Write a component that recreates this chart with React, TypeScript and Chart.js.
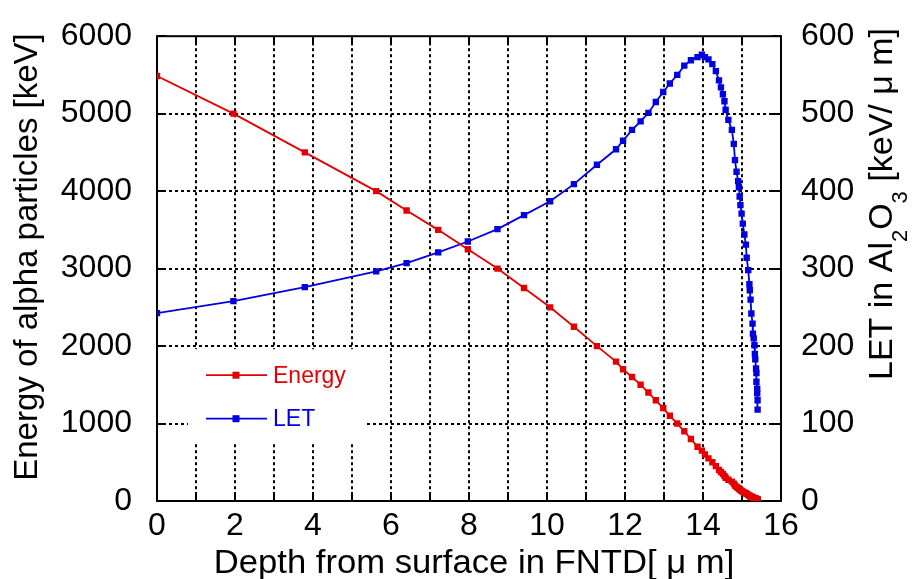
import React, { useEffect, useRef } from 'react';
import { Chart, registerables } from 'chart.js';

Chart.register(...registerables);

// Depth in the FNTD (µm) at which each SRIM-like energy step is reached
const depthUm = [
  0.0, 1.96, 3.79, 5.62, 6.4, 7.21, 7.97, 8.73, 9.41, 10.08, 10.69, 11.28, 11.77, 11.95, 12.18, 12.4,
  12.6, 12.79, 12.98, 13.15, 13.34, 13.52, 13.69, 13.86, 13.97, 14.05, 14.14, 14.24, 14.33, 14.41,
  14.46, 14.51, 14.55, 14.58, 14.65, 14.74, 14.79, 14.82, 14.86, 14.9, 14.92, 14.94, 14.96, 14.99,
  15.02, 15.06, 15.1, 15.12, 15.16, 15.19, 15.2, 15.22, 15.24, 15.27, 15.28, 15.3, 15.32, 15.33,
  15.34, 15.36, 15.37, 15.37, 15.39, 15.39, 15.4, 15.4,
];

// Energy of the alpha particle (keV)
const energyKeV = [
  5486, 5000, 4500, 4000, 3750, 3500, 3250, 3000, 2750, 2500, 2250, 2000, 1800, 1700, 1600, 1500,
  1400, 1300, 1200, 1100, 1000, 900, 800, 700, 650, 600, 550, 500, 450, 400, 375, 350, 325, 300,
  275, 250, 225, 200, 180, 170, 160, 150, 140, 130, 120, 110, 100, 90, 80, 70, 65, 60, 55, 50, 45,
  40, 37.5, 35, 32.5, 30, 27.5, 25, 22.5, 20, 18, 17,
];

// LET in Al2O3 (keV/µm)
const letKeVPerUm = [
  242.5, 258, 276, 296.5, 307, 321, 335, 351, 369, 387, 409, 434, 454, 465, 479, 490, 501, 515, 528,
  539, 550, 562, 569, 573, 576, 573, 570, 564, 555, 543, 534, 525, 516, 505, 492, 479, 461, 440, 425,
  413, 405, 393, 382, 371, 358, 344, 331, 314, 298, 280, 272, 260, 242, 229, 216, 210, 201, 190, 183,
  171, 165, 154, 145, 139, 130, 118,
];

const seriesLabels = ['Energy', 'LET'];
const xTitle = 'Depth from surface in FNTD[ \u03bc m]';
const yTitle = 'Energy of alpha particles [keV]';

const RED = 'rgb(228,0,0)';
const BLUE = 'rgb(0,0,225)';
const FONT = '"Liberation Sans", Arial, Helvetica, sans-serif';

export default function App() {
  const ref = useRef<HTMLCanvasElement>(null);

  useEffect(() => {
    const canvas = ref.current!;

    const frame = {
      id: 'frame',
      beforeDatasetsDraw(chart: any) {
        const { ctx, chartArea: a, scales } = chart;
        const xs = scales.x;
        const ys = scales.y;
        const line = (x1: number, y1: number, x2: number, y2: number) => {
          ctx.beginPath();
          ctx.moveTo(x1, y1);
          ctx.lineTo(x2, y2);
          ctx.stroke();
        };
        ctx.save();
        ctx.strokeStyle = '#000';
        ctx.lineWidth = 2;
        ctx.setLineDash([3, 3]);
        xs.ticks.forEach((t: any) => {
          if (t.value <= xs.min || t.value >= xs.max) return;
          const px = Math.round(xs.getPixelForValue(t.value));
          line(px, a.top, px, a.bottom);
        });
        ys.ticks.forEach((t: any) => {
          if (t.value <= ys.min || t.value >= ys.max) return;
          const py = Math.round(ys.getPixelForValue(t.value));
          line(a.left, py, a.right, py);
        });
        ctx.setLineDash([]);
        // inward tick marks
        ctx.lineWidth = 2;
        const tl = 9;
        xs.ticks.forEach((t: any) => {
          const px = Math.round(xs.getPixelForValue(t.value));
          line(px, a.bottom, px, a.bottom - tl);
          line(px, a.top, px, a.top + tl);
        });
        ys.ticks.forEach((t: any) => {
          const py = Math.round(ys.getPixelForValue(t.value));
          line(a.left, py, a.left + tl, py);
          line(a.right, py, a.right - tl, py);
        });
        // legend background (covers the grid)
        ctx.fillStyle = '#fff';
        ctx.fillRect(a.left + 31, a.top + 313, 178, 93);
        // plot box
        ctx.lineWidth = 2;
        ctx.strokeRect(a.left, a.top, a.right - a.left, a.bottom - a.top);
        ctx.restore();
      },
      afterDraw(chart: any) {
        const { ctx, chartArea: a } = chart;
        ctx.save();
        // legend entries
        chart.data.datasets.forEach((ds: any, i: number) => {
          const y = a.top + 339 + i * 43.5;
          const x0 = a.left + 49;
          ctx.strokeStyle = ds.borderColor;
          ctx.fillStyle = ds.borderColor;
          ctx.lineWidth = 1.8;
          ctx.beginPath();
          ctx.moveTo(x0, y);
          ctx.lineTo(x0 + 61, y);
          ctx.stroke();
          ctx.fillRect(x0 + 30 - 3.5, y - 3.5, 7, 7);
          ctx.font = `23px ${FONT}`;
          ctx.textAlign = 'left';
          ctx.textBaseline = 'middle';
          ctx.fillText(ds.label, x0 + 67, y + 1);
        });

        ctx.fillStyle = '#000';
        // left title
        ctx.save();
        ctx.translate(37, 257);
        ctx.rotate(-Math.PI / 2);
        ctx.font = `33px ${FONT}`;
        ctx.textAlign = 'center';
        ctx.textBaseline = 'alphabetic';
        ctx.fillText(yTitle, 0, 0);
        ctx.restore();

        // bottom title
        ctx.save();
        ctx.translate(474, 573);
        ctx.scale(1.05, 1);
        ctx.font = `33px ${FONT}`;
        ctx.textAlign = 'center';
        ctx.textBaseline = 'alphabetic';
        ctx.fillText(xTitle, 0, 0);
        ctx.restore();

        // right title with subscripts, reading bottom to top
        ctx.save();
        ctx.translate(892, 380);
        ctx.rotate(-Math.PI / 2);
        ctx.textAlign = 'left';
        ctx.textBaseline = 'alphabetic';
        const parts: [string, boolean][] = [
          ['LET in Al', false],
          ['2', true],
          ['O', false],
          ['3', true],
          [' [keV/ \u03bc m]', false],
        ];
        let x = 0;
        parts.forEach(([s, sub]) => {
          ctx.font = sub ? `22px ${FONT}` : `34px ${FONT}`;
          ctx.fillText(s, x, sub ? 15 : 0);
          x += ctx.measureText(s).width;
        });
        ctx.restore();
        ctx.restore();
      },
    };

    const tickFont = { family: FONT, size: 32 };
    const plain = (v: any) => String(v);

    const chart = new Chart(canvas, {
      type: 'line',
      data: {
        datasets: [
          {
            label: seriesLabels[0],
            data: depthUm.map((d, i) => ({ x: d, y: energyKeV[i] })),
            yAxisID: 'y',
            borderColor: RED,
            backgroundColor: RED,
            borderWidth: 1.8,
            pointStyle: 'rect',
            pointRadius: 4.5,
            pointBorderWidth: 0,
            tension: 0,
          },
          {
            label: seriesLabels[1],
            data: depthUm.map((d, i) => ({ x: d, y: letKeVPerUm[i] })),
            yAxisID: 'y1',
            borderColor: BLUE,
            backgroundColor: BLUE,
            borderWidth: 1.8,
            pointStyle: 'rect',
            pointRadius: 4.5,
            pointBorderWidth: 0,
            tension: 0,
          },
        ],
      },
      options: {
        responsive: false,
        animation: false,
        events: [],
        layout: { padding: { top: 35, left: 0, right: 0, bottom: 0 } },
        plugins: { legend: { display: false }, tooltip: { enabled: false }, title: { display: false } },
        scales: {
          x: {
            type: 'linear',
            min: 0,
            max: 16,
            grid: { display: false },
            border: { display: false },
            ticks: {
              stepSize: 1,
              autoSkip: false,
              maxRotation: 0,
              minRotation: 0,
              color: '#000',
              font: tickFont,
              padding: -2,
              callback: (v: any) => (Number(v) % 2 === 0 ? String(v) : ''),
            },
            afterFit: (s: any) => {
              s.height = 78;
            },
          },
          y: {
            type: 'linear',
            position: 'left',
            min: 0,
            max: 6000,
            grid: { display: false },
            border: { display: false },
            ticks: { stepSize: 1000, color: '#000', font: tickFont, padding: 17, callback: plain },
            afterFit: (s: any) => {
              s.width = 157;
            },
          },
          y1: {
            type: 'linear',
            position: 'right',
            min: 0,
            max: 600,
            grid: { display: false },
            border: { display: false },
            ticks: { stepSize: 100, color: '#000', font: tickFont, padding: 12, callback: plain },
            afterFit: (s: any) => {
              s.width = 131;
            },
          },
        },
      },
      plugins: [frame],
    } as any);

    return () => chart.destroy();
  }, []);

  return (
    <div style={{ position: 'fixed', left: 0, top: 0, width: 912, height: 579, background: '#fff' }}>
      <canvas ref={ref} width={912} height={579} style={{ display: 'block', width: 912, height: 579 }} />
    </div>
  );
}
